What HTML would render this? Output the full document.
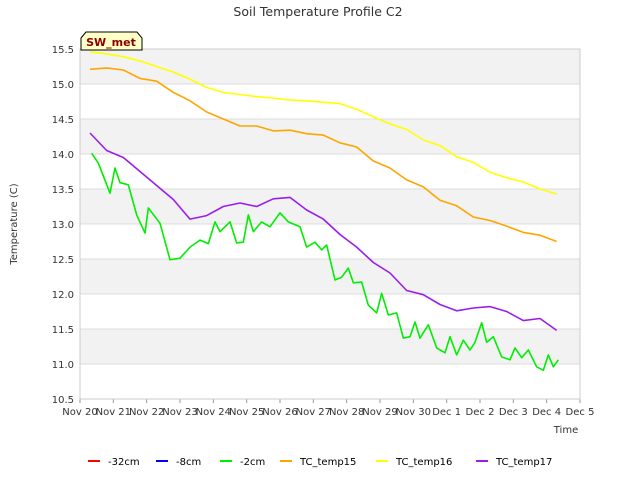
<!DOCTYPE html>
<html><head><meta charset="utf-8"><style>
body{margin:0;background:#fff;font-family:"Liberation Sans","DejaVu Sans",sans-serif;}
svg text{font-family:"DejaVu Sans","Liberation Sans",sans-serif;}
</style></head><body>
<svg id="chart" width="640" height="480" xmlns="http://www.w3.org/2000/svg">
<rect width="640" height="480" fill="#fff"/>
<text x="318" y="16" text-anchor="middle" font-size="12.5" fill="#333">Soil Temperature Profile C2</text>
<g id="plot"></g>
<g id="axes"></g>
<g>
<path d="M81,38 L86,32 L137,32 L142,38 L142,50 L81,50 Z" fill="#ffffc8" stroke="#000" stroke-width="1"/>
<text x="111" y="46" text-anchor="middle" font-size="11" font-weight="bold" fill="#8b0000">SW_met</text>
</g>
<text transform="translate(17,224) rotate(-90)" text-anchor="middle" font-size="10" fill="#333">Temperature (C)</text>
<text x="566" y="433" text-anchor="middle" font-size="10" fill="#333">Time</text>
<g id="legend"></g>
</svg>
<script>
const xTickLabels=["Nov 20","Nov 21","Nov 22","Nov 23","Nov 24","Nov 25","Nov 26","Nov 27","Nov 28","Nov 29","Nov 30","Dec 1","Dec 2","Dec 3","Dec 4","Dec 5"];
const yTicks=[10.5,11.0,11.5,12.0,12.5,13.0,13.5,14.0,14.5,15.0,15.5];
const times=[0.3,0.8,1.3,1.8,2.3,2.8,3.3,3.8,4.3,4.8,5.3,5.8,6.3,6.8,7.3,7.8,8.3,8.8,9.3,9.8,10.3,10.8,11.3,11.8,12.3,12.8,13.3,13.8,14.3];
const tc16=[15.46,15.43,15.39,15.33,15.25,15.17,15.07,14.95,14.88,14.85,14.82,14.80,14.77,14.76,14.74,14.72,14.64,14.53,14.43,14.35,14.2,14.12,13.96,13.88,13.74,13.66,13.6,13.5,13.43];
const tc15=[15.21,15.23,15.2,15.08,15.04,14.88,14.76,14.6,14.5,14.4,14.4,14.33,14.34,14.29,14.27,14.16,14.1,13.9,13.8,13.63,13.53,13.34,13.26,13.1,13.05,12.97,12.88,12.84,12.75];
const tc17=[14.3,14.05,13.95,13.75,13.55,13.35,13.07,13.12,13.25,13.3,13.25,13.36,13.38,13.2,13.07,12.85,12.67,12.45,12.3,12.05,11.99,11.85,11.76,11.8,11.82,11.75,11.62,11.65,11.48];
const greenTimes=[0.35,0.55,0.9,1.05,1.2,1.45,1.7,1.95,2.05,2.4,2.7,3.0,3.3,3.6,3.85,4.05,4.2,4.5,4.7,4.9,5.05,5.2,5.45,5.7,6.0,6.25,6.6,6.8,7.05,7.25,7.4,7.65,7.85,8.05,8.2,8.45,8.65,8.9,9.05,9.25,9.5,9.7,9.9,10.05,10.2,10.45,10.7,10.95,11.1,11.3,11.5,11.7,11.85,12.05,12.2,12.4,12.65,12.9,13.05,13.25,13.45,13.7,13.9,14.05,14.2,14.35];
const minus2=[14.01,13.87,13.44,13.8,13.59,13.56,13.13,12.87,13.23,13.01,12.49,12.51,12.67,12.77,12.72,13.03,12.89,13.03,12.73,12.74,13.13,12.89,13.03,12.96,13.16,13.03,12.96,12.67,12.74,12.63,12.7,12.2,12.24,12.37,12.16,12.17,11.84,11.73,12.01,11.7,11.73,11.37,11.39,11.6,11.37,11.56,11.23,11.16,11.39,11.13,11.34,11.2,11.31,11.59,11.31,11.39,11.1,11.06,11.23,11.09,11.2,10.96,10.91,11.13,10.96,11.06];
const legendNames=["-32cm","-8cm","-2cm","TC_temp15","TC_temp16","TC_temp17"];
const legendColors=["#ff0000","#0000ff","#00ee00","#ffa500","#ffff00","#9a1eeb"];

const X0=80,X1=580,Y0=49,Y1=399;
const xs=d=>X0+(X1-X0)*d/15;
const ys=v=>Y0+(Y1-Y0)*(15.5-v)/5;
const NS="http://www.w3.org/2000/svg";
function mk(tag,attrs,parent){const e=document.createElementNS(NS,tag);for(const k in attrs)e.setAttribute(k,attrs[k]);parent.appendChild(e);return e;}
const plot=document.getElementById('plot'),axes=document.getElementById('axes'),legend=document.getElementById('legend');
for(let i=0;i<yTicks.length-1;i++){
  const lo=yTicks[i],hi=yTicks[i+1];
  const r=mk('rect',{x:X0,y:ys(hi),width:X1-X0,height:ys(lo)-ys(hi),fill:(Math.round(lo*2)%2===0)?'#f2f2f2':'#ffffff'},plot);
  
  
}
yTicks.forEach(v=>{
  const l=mk('line',{x1:X0,x2:X1,y1:ys(v),y2:ys(v),stroke:'#dcdcdc','stroke-width':1},plot);
  
  
  const t=mk('text',{x:X0-6,y:ys(v)+4,'text-anchor':'end','font-size':10,fill:'#333'},axes);
  t.textContent=v.toFixed(1);
  
  
});
xTickLabels.forEach((s,i)=>{
  const tk=mk('line',{x1:xs(i),x2:xs(i),y1:Y1,y2:Y1+4,stroke:'#999'},axes);
  
  
  const t=mk('text',{x:xs(i),y:Y1+16,'text-anchor':'middle','font-size':10,fill:'#333'},axes);
  t.textContent=s;
  
  
});
const fr=mk('rect',{x:X0,y:Y0,width:X1-X0,height:Y1-Y0,fill:'none',stroke:'#ccc'},axes);


function line(tArr,vArr,color,name){
  const p=mk('polyline',{points:tArr.map((t,i)=>xs(t)+','+ys(vArr[i])).join(' '),fill:'none',stroke:color,'stroke-width':1.6,'stroke-linejoin':'round'},plot);
  
  
}
line(times,tc16,'#ffff00','series-tc-temp16');
line(times,tc15,'#ffa500','series-tc-temp15');
line(times,tc17,'#9a1eeb','series-tc-temp17');
line(greenTimes,minus2,'#00ee00','series-minus-2cm');
const lx=[88,156,220,280,376,476];
legendNames.forEach((n,i)=>{
  const g=mk('g',{},legend);
  
  
  mk('line',{x1:lx[i],x2:lx[i]+12,y1:461,y2:461,stroke:legendColors[i],'stroke-width':2},g);
  const t=mk('text',{x:lx[i]+20,y:465,'font-size':10,fill:'#000'},g);
  t.textContent=n;
});
</script>
</body></html>
